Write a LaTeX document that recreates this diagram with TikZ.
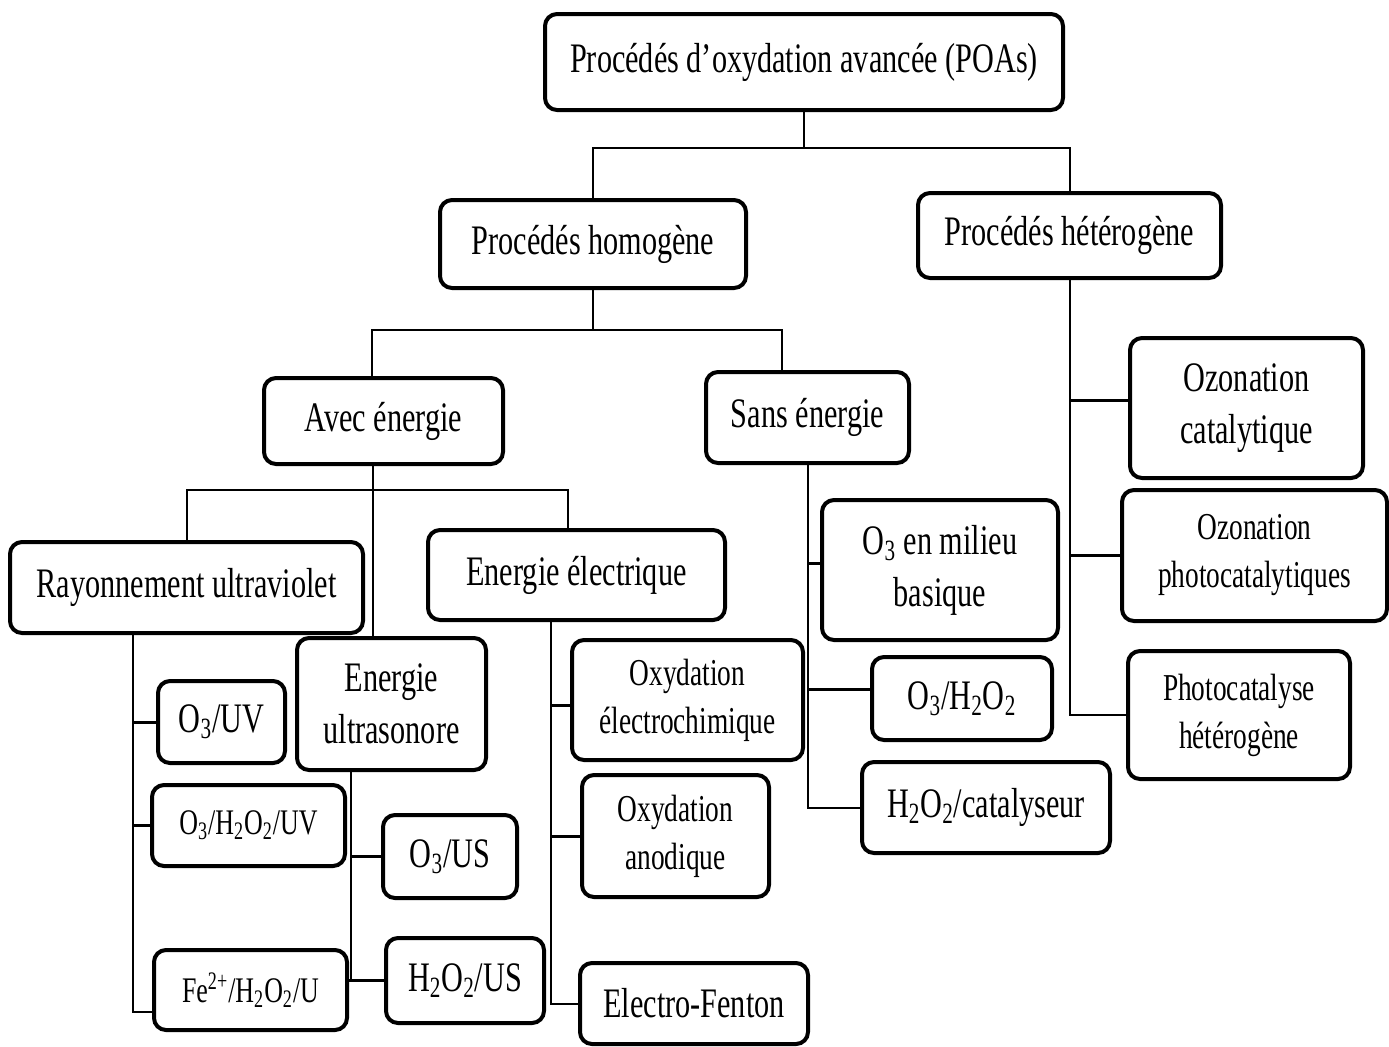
\documentclass[tikz,border=0pt]{standalone}
\usepackage{fontspec}
\setmainfont{Liberation Serif}[FakeStretch=0.72]
\usepackage{tikz}

\begin{document}
\begin{tikzpicture}[x=0.5pt,y=-0.5pt,
		boite/.style={draw,line width=2pt,rounded corners=6pt,fill=white,align=center,inner sep=0pt,font=\fontsize{21}{26}\selectfont},
		petit/.style={font=\fontsize{19}{24}\selectfont},
		lien/.style={line width=1pt},
		branche/.style={line width=1.5pt}]
			\useasboundingbox (0,0) rectangle (1389,1046);
			
			% 第一层
			\node[boite,minimum width=259pt,minimum height=48pt] (poa) at (804,62) {Procédés d’oxydation avancée (POAs)};
			\node[boite,minimum width=153pt,minimum height=44pt] (homo) at (593,244) {Procédés homogène};
			\node[boite,minimum width=151.5pt,minimum height=42.5pt] (hetero) at (1069.5,235.5) {Procédés hétérogène};
			
			% 第二层
			\node[boite,minimum width=119.5pt,minimum height=43pt] (avec) at (383.5,421) {Avec énergie};
			\node[boite,minimum width=101.5pt,minimum height=45.5pt] (sans) at (807.5,417.5) {Sans énergie};
			
			% 有能量
			\node[boite,minimum width=176.5pt,minimum height=45.5pt] (ray) at (186.5,587.5) {Rayonnement ultraviolet};
			\node[boite,minimum width=148.5pt,minimum height=45pt] (elec) at (576.5,575) {Energie électrique};
			\node[boite,minimum width=94.5pt,minimum height=66pt] (ultra) at (391.5,704) {Energie\\ultrasonore};
			
			% 紫外
			\node[boite,minimum width=63.5pt,minimum height=41pt] (o3uv) at (221.5,722) {O\textsubscript{3}/UV};
			\node[boite,font=\fontsize{18}{22}\selectfont,minimum width=96.5pt,minimum height=40.5pt] (o3h2o2uv) at (248.5,825.5) {O\textsubscript{3}/H\textsubscript{2}O\textsubscript{2}/UV};
			\node[boite,font=\fontsize{18}{22}\selectfont,minimum width=96.5pt,minimum height=40pt] (fe) at (250.5,990) {Fe\textsuperscript{2+}/H\textsubscript{2}O\textsubscript{2}/U};
			
			% 超声
			\node[boite,minimum width=67pt,minimum height=41.5pt] (o3us) at (450,856.5) {O\textsubscript{3}/US};
			\node[boite,minimum width=79pt,minimum height=42.5pt] (h2o2us) at (465,980.5) {H\textsubscript{2}O\textsubscript{2}/US};
			
			% 电能
			\node[boite,petit,minimum width=115.5pt,minimum height=60pt] (electro) at (687.5,700) {Oxydation\\électrochimique};
			\node[boite,petit,minimum width=93.5pt,minimum height=61pt] (anod) at (675.5,836) {Oxydation\\anodique};
			\node[boite,minimum width=114pt,minimum height=40.5pt] (fenton) at (694,1003.5) {Electro-Fenton};
			
			% 无能量
			\node[boite,minimum width=118pt,minimum height=70pt] (basique) at (940,570) {O\textsubscript{3} en milieu\\basique};
			\node[boite,minimum width=90pt,minimum height=41.5pt] (o3h2o2) at (962,698.5) {O\textsubscript{3}/H\textsubscript{2}O\textsubscript{2}};
			\node[boite,minimum width=124pt,minimum height=45.5pt] (catal) at (986,807.5) {H\textsubscript{2}O\textsubscript{2}/catalyseur};
			
			% 非均相
			\node[boite,minimum width=116.5pt,minimum height=70pt] (ozcat) at (1246.5,408) {Ozonation\\catalytique};
			\node[boite,petit,minimum width=132.5pt,minimum height=65.5pt] (ozphoto) at (1254.5,555.5) {Ozonation\\photocatalytiques};
			\node[boite,petit,minimum width=111pt,minimum height=64pt] (photocat) at (1239,715) {Photocatalyse\\hétérogène};
			
			% 分支点
			\coordinate (n1) at (806,148);
			\coordinate (n2) at (587,330);
			\coordinate (n3) at (373,490);
			\coordinate (truv) at (133,633);
			\coordinate (trus) at (351,770);
			\coordinate (trel) at (551,620);
			
			% 连线
			\draw[lien] (poa.south) -- (poa.south |- n1);
			\draw[lien] (homo.north) |- (n1) -| (hetero.north);
			\draw[lien] (homo.south) -- (homo.south |- n2);
			\draw[lien] ([xshift=-6pt]avec.north) |- (n2) -| ([xshift=-12.75pt]sans.north);
			\draw[lien] ([xshift=-5.25pt]avec.south) -- ([xshift=-9.25pt]ultra.north);
			\draw[lien] (ray.north) |- (n3) -| ([xshift=-4.25pt]elec.north);
			
			\draw[lien] (truv) |- ([yshift=-11pt]fe.west);
			\draw[branche] (o3uv.west) -- (o3uv.west -| truv);
			\draw[branche] (o3h2o2uv.west) -- (o3h2o2uv.west -| truv);
			
			\draw[lien] (trus) |- (h2o2us.west);
			\draw[branche] (o3us.west) -- (o3us.west -| trus);
			\draw[branche] (fe.east |- h2o2us.west) -- (h2o2us.west);
			
			\draw[lien] (trel) |- (fenton.west);
			\draw[branche] ([yshift=-2.5pt]electro.west) -- ([yshift=-2.5pt]electro.west -| trel);
			\draw[branche] (anod.west) -- (anod.west -| trel);
			
			\draw[lien] (sans.south) |- (catal.west);
			\draw[branche] ([yshift=3.5pt]basique.west) -- ([yshift=3.5pt]basique.west -| sans.south);
			\draw[branche] ([yshift=4.75pt]o3h2o2.west) -- ([yshift=4.75pt]o3h2o2.west -| sans.south);
			
			\draw[lien] (hetero.south) |- (photocat.west);
			\draw[branche] ([yshift=4pt]ozcat.west) -- ([yshift=4pt]ozcat.west -| hetero.south);
			\draw[branche] (ozphoto.west) -- (ozphoto.west -| hetero.south);
		\end{tikzpicture}
\end{document}
